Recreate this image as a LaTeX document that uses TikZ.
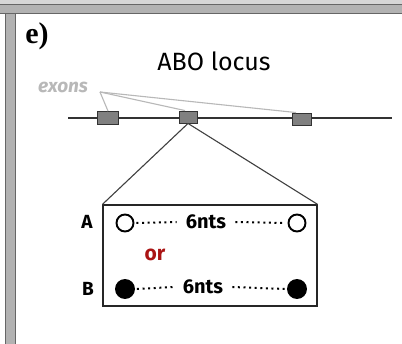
\documentclass[tikz,border=0pt]{standalone}
\usepackage{fontspec}
\setmainfont{Fira Sans}
\newfontfamily\labelserif{Liberation Serif}
\begin{document}
\begin{tikzpicture}[x=1pt,y=-1pt,
  exon/.style={draw=black!80,fill=black!50,line width=0.9pt,minimum width=20pt,minimum height=12pt,inner sep=0pt},
  pointer/.style={draw=black!28,line width=1.1pt},
  allele/.style={circle,draw=black,line width=1.9pt,minimum size=17pt,inner sep=0pt},
  dots/.style={line width=2pt,dash pattern=on 2pt off 3.6pt},
  lbl/.style={font=\bfseries\fontsize{19}{21}\selectfont,inner sep=0pt},
  nts/.style={font=\bfseries\fontsize{20}{22}\selectfont,inner sep=0pt}]
\useasboundingbox (0,0) rectangle (402,344);
% window frame
\fill[white] (0,0) rectangle (402,344);
\fill[black!16] (0,0) rectangle (402,4);
\fill[black!30] (0,4) rectangle (402,14);
\draw[black!60,line width=1pt] (0,4.5) -- (402,4.5);
\draw[black!60,line width=1pt] (0,13.5) -- (402,13.5);
\fill[black!30] (5,14) rectangle (16,344);
\draw[black!60,line width=1pt] (5.5,14) -- (5.5,344);
\draw[black!60,line width=1pt] (15.5,14) -- (15.5,344);
% headings
\node[font=\labelserif\bfseries\fontsize{30}{32}\selectfont,inner sep=0pt] (tag) at (37,36) {e)};
\node[font=\fontsize{25}{28}\selectfont,inner sep=0pt] (title) at (214,61) {ABO locus};
\node[font=\bfseries\itshape\fontsize{19}{21}\selectfont,text=black!28,inner sep=0pt] (exlabel) at (63,87) {exons};
\coordinate (exfoot) at (100,92);
% chromosome and exons
\coordinate (chrL) at (68,118);
\coordinate (chrR) at (392,118);
\draw[black!80,line width=1.2pt] (chrL) -- (chrR);
\node[exon,minimum width=21pt,minimum height=13pt] (e1) at (108,118) {};
\node[exon,minimum width=18pt] (e2) at (188,117) {};
\node[exon,minimum width=19pt] (e3) at (302,119) {};
\draw[pointer] (exfoot) -- (e1.north);
\draw[pointer] (exfoot) -- ([xshift=-3pt]e2.north);
\draw[pointer] (exfoot) -- ([xshift=-6pt]e3.north);
% zoomed exon
\node[draw=black!85,line width=1.2pt,minimum width=214pt,minimum height=101pt,inner sep=0pt] (box) at (210,255.5) {};
\draw[black!75,line width=1.1pt] (e2.south) -- (box.north west);
\draw[black!75,line width=1.1pt] (e2.south) -- (box.north east);
% allele A
\node[lbl] (A) at (87,222) {A};
\node[allele] (a1) at (125,223) {};
\node[allele] (a2) at (297,223) {};
\node[nts] (a6) at (206,222) {6nts};
\draw[dots] ([xshift=2pt]a1.east) -- ([xshift=-9pt]a6.west);
\draw[dots] ([xshift=9pt]a6.east) -- ([xshift=-2pt]a2.west);
% or
\node[font=\bfseries\fontsize{21}{23}\selectfont,text={rgb,255:red,170;green,20;blue,20},inner sep=0pt] (or) at (155,255) {or};
% allele B
\node[lbl] (B) at (88,289) {B};
\node[allele,fill=black,minimum size=18pt] (b1) at (125,289) {};
\node[allele,fill=black,minimum size=18pt] (b2) at (297,289) {};
\node[nts] (b6) at (203,287) {6nts};
\draw[dots] ([xshift=2pt]b1.east) -- ([xshift=-9pt]b6.west);
\draw[dots] ([xshift=9pt]b6.east) -- ([xshift=-2pt]b2.west);
\end{tikzpicture}
\end{document}
